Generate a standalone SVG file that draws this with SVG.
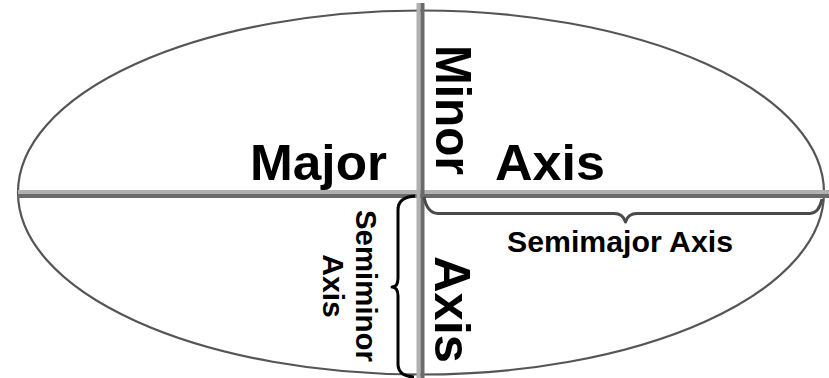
<svg xmlns="http://www.w3.org/2000/svg" width="829" height="378" viewBox="0 0 829 378">
<style>
.big{font-family:"Liberation Sans",Arial,Helvetica,sans-serif;font-weight:bold;font-size:50px;fill:#000}
.small{font-family:"Liberation Sans",Arial,Helvetica,sans-serif;font-weight:bold;font-size:30px;fill:#000}
.axL{stroke:#b0b0b0;stroke-width:4;fill:none}
.axD{stroke:#6a6a6a;stroke-width:4;fill:none}
.brace{fill:none;stroke-width:3;stroke-linejoin:round}
</style>
<rect width="829" height="378" fill="#fff"/>
<g id="ellipse">
<ellipse cx="421" cy="192.5" rx="403" ry="182" fill="none" stroke="#555" stroke-width="2.2"/>
</g>
<g id="connectors">
<line class="axL" x1="18" y1="192" x2="829" y2="192"/>
<line class="axD" x1="18" y1="196" x2="829" y2="196"/>
<line class="axL" x1="418.5" y1="3" x2="418.5" y2="378"/>
<line class="axD" x1="422.5" y1="3" x2="422.5" y2="378"/>
<path class="brace" stroke="#4a4a4a" d="M424,197 Q427,213 438,213.5 L614,213.5 Q623,213.5 625.5,222 Q628,213.5 637,213.5 L810,213.5 Q819,213 822,199"/>
<path class="brace" stroke="#000" d="M415,196 Q398,197 398,210 L398,278 Q398,287 392,287 Q398,287 398,296 L398,364 Q398,376 414,377"/>
</g>
<g id="major-label">
<text class="big" x="250" y="180" textLength="137" lengthAdjust="spacingAndGlyphs">Major</text>
</g>
<g id="axis-label">
<text class="big" x="495" y="180" textLength="110" lengthAdjust="spacingAndGlyphs">Axis</text>
</g>
<g id="minor-label">
<text class="big" transform="translate(436,45) rotate(90)" x="0" y="0" textLength="130" lengthAdjust="spacingAndGlyphs">Minor</text>
</g>
<g id="minor-axis-label">
<text class="big" transform="translate(435,256) rotate(90)" x="0" y="0" textLength="107" lengthAdjust="spacingAndGlyphs">Axis</text>
</g>
<g id="semimajor-label">
<text class="small" x="620" y="252" text-anchor="middle" textLength="226" lengthAdjust="spacingAndGlyphs">Semimajor Axis</text>
</g>
<g id="semiminor-label">
<text class="small" transform="translate(356,286) rotate(90)" x="0" y="0" text-anchor="middle" textLength="152" lengthAdjust="spacingAndGlyphs">Semiminor</text>
<text class="small" transform="translate(323,286) rotate(90)" x="0" y="0" text-anchor="middle">Axis</text>
</g>
</svg>
